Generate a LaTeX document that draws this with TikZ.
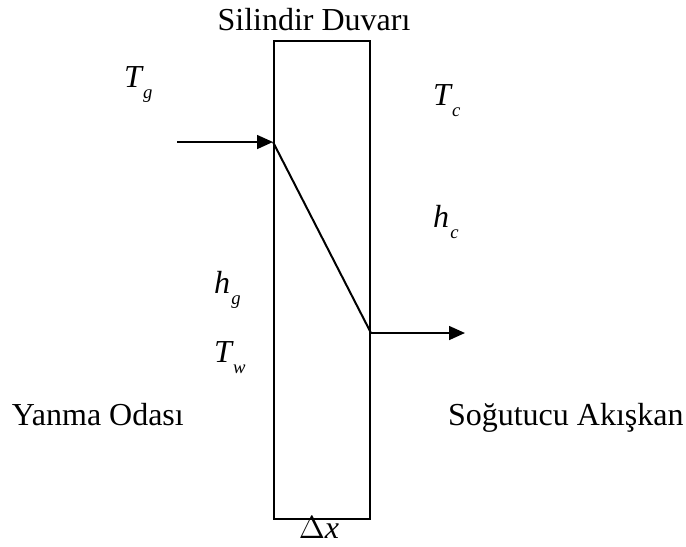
\documentclass[tikz,border=0pt]{standalone}
\usepackage{fontspec}
\setmainfont{Liberation Serif}
\usetikzlibrary{arrows.meta,positioning}

\newcommand{\qty}[2]{{\itshape #1}\kern0.5pt\raisebox{-0.8ex}{\scriptsize\itshape #2}}

\begin{document}
\begin{tikzpicture}[x=0.375pt,y=-0.375pt,
    font=\fontsize{12}{14}\selectfont,
    line width=0.75pt,
    flow/.style={-{Triangle[length=6pt,width=5.2pt]}},
    lbl/.style={inner sep=0pt,anchor=base west}]
    \useasboundingbox (0,0) rectangle (686,546);

    % wall
    \node[draw,minimum width=96*0.375pt,minimum height=478*0.375pt,inner sep=0pt,
          anchor=north west] (wall) at (273,40) {};
    \node[inner sep=0pt,anchor=base] (title) at (314,30) {Silindir Duvarı};
    \node[inner sep=0pt,anchor=base] (dx) at (319,538) {$\Delta$\textit{x}};

    % heat flow through the wall
    \coordinate (in) at (177,142);
    \coordinate (hot) at (wall.west |- in);
    \coordinate (cold) at (wall.east |- 0,333);
    \coordinate (out) at (465,333);
    \draw[flow] (in) -- (hot);
    \draw (hot) -- (cold);
    \draw[flow] (cold) -- (out);

    % gas side
    \node[lbl] (Tg) at (123,87) {\qty{T}{g}};
    \node[lbl] (hg) at (213,293) {\qty{h}{g}};
    \node[lbl] (Tw) at (213,362) {\qty{T}{w}};
    \node[lbl] (gas) at (11,425) {Yanma Odası};

    % coolant side
    \node[lbl] (Tc) at (432,105) {\qty{T}{c}};
    \node[lbl] (hc) at (432,227) {\qty{h}{c}};
    \node[lbl] (cool) at (447,425) {Soğutucu Akışkan};
\end{tikzpicture}
\end{document}
